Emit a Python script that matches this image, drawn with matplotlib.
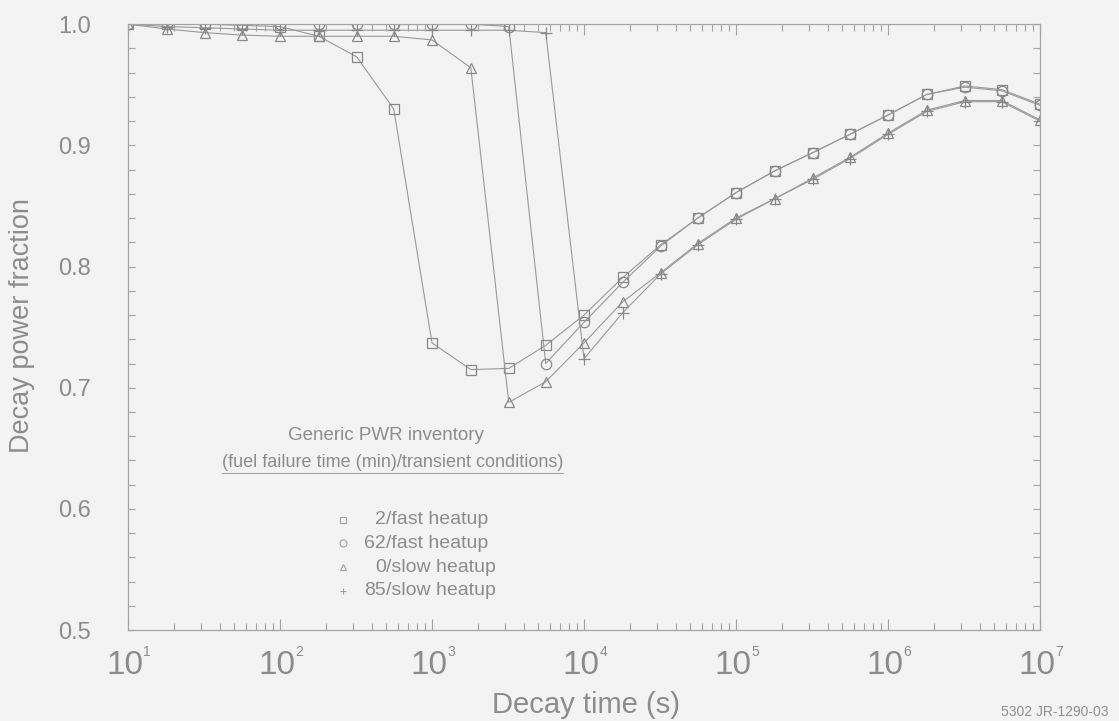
import matplotlib
matplotlib.use("Agg")
import matplotlib.pyplot as plt
from matplotlib.ticker import FixedLocator, FixedFormatter, LogLocator, NullFormatter, MultipleLocator

plt.rcParams['font.family'] = ['Liberation Sans', 'DejaVu Sans']

# Decay time (s)
times = [10, 18, 32, 56, 100, 180, 320, 560, 1000, 1800, 3200, 5600,
         1e4, 1.8e4, 3.2e4, 5.6e4, 1e5, 1.8e5, 3.2e5, 5.6e5,
         1e6, 1.8e6, 3.2e6, 5.6e6, 1e7]

fast_2 = [1.0, 1.0, 1.0, 0.999, 0.998, 0.990, 0.973, 0.930, 0.737, 0.715, 0.716, 0.735,
          0.760, 0.791, 0.818, 0.840, 0.861, 0.879, 0.894, 0.909, 0.925, 0.942, 0.949, 0.946, 0.934]
fast_62 = [1.0, 1.0, 1.0, 1.0, 1.0, 1.0, 1.0, 1.0, 1.0, 1.0, 0.998, 0.720,
           0.754, 0.787, 0.817, 0.840, 0.861, 0.879, 0.894, 0.909, 0.925, 0.942, 0.948, 0.945, 0.933]
slow_0 = [1.0, 0.996, 0.993, 0.991, 0.990, 0.990, 0.990, 0.990, 0.987, 0.964, 0.688, 0.705,
          0.737, 0.771, 0.795, 0.819, 0.840, 0.856, 0.873, 0.890, 0.910, 0.929, 0.937, 0.937, 0.921]
slow_85 = [1.0, 0.998, 0.997, 0.996, 0.995, 0.995, 0.995, 0.995, 0.995, 0.995, 0.995, 0.993,
           0.724, 0.762, 0.794, 0.818, 0.839, 0.856, 0.872, 0.889, 0.909, 0.928, 0.936, 0.936, 0.920]

series_labels = ["2/fast heatup", "62/fast heatup", "0/slow heatup", "85/slow heatup"]
x_tick_vals = [1e1, 1e2, 1e3, 1e4, 1e5, 1e6, 1e7]
x_tick_exps = ['1', '2', '3', '4', '5', '6', '7']
y_tick_vals = [0.5, 0.6, 0.7, 0.8, 0.9, 1.0]
y_tick_labels = ['0.5', '0.6', '0.7', '0.8', '0.9', '1.0']

BG = '#f3f3f3'
TXT = '#8c8c8c'
LINE = '#999999'
AX = '#a4a4a4'

fig = plt.figure(figsize=(11.19, 7.21), dpi=100, facecolor=BG)
ax = fig.add_axes([0.1144, 0.126, 0.815, 0.8405])
ax.set_facecolor(BG)

mk = dict(color=LINE, lw=0.8, markerfacecolor='none', markeredgecolor='#888888', markeredgewidth=0.9)
ax.plot(times, fast_2, marker='s', ms=7, **mk)
ax.plot(times, fast_62, marker='o', ms=7.5, **mk)
ax.plot(times, slow_0, marker='^', ms=7.5, **mk)
ax.plot(times, slow_85, marker='+', ms=8, **mk)

ax.set_xscale('log')
ax.set_xlim(1e1, 1e7)
ax.set_ylim(0.5, 1.0)

ax.xaxis.set_major_locator(FixedLocator(x_tick_vals))
ax.xaxis.set_major_formatter(NullFormatter())
ax.xaxis.set_minor_locator(LogLocator(base=10, subs=range(2, 10), numticks=20))
ax.xaxis.set_minor_formatter(NullFormatter())
ax.yaxis.set_major_locator(FixedLocator(y_tick_vals))
ax.yaxis.set_major_formatter(FixedFormatter(y_tick_labels))
ax.yaxis.set_minor_locator(MultipleLocator(0.02))

for s in ax.spines.values():
    s.set_color(AX)
    s.set_linewidth(0.9)

ax.tick_params(axis='both', which='both', direction='in', top=True, right=True,
               color=AX, width=0.8)
ax.tick_params(axis='x', which='major', length=8)
ax.tick_params(axis='x', which='minor', length=5)
ax.tick_params(axis='y', which='major', length=5, labelsize=17, labelcolor=TXT, pad=27)
ax.tick_params(axis='y', which='minor', length=5)

# x tick labels: large "10" with small raised exponent
for xv, ex in zip(x_tick_vals, x_tick_exps):
    ax.annotate('10', xy=(xv, 0), xycoords=('data', 'axes fraction'),
                xytext=(-2, -14), textcoords='offset points',
                ha='center', va='top', fontsize=24, color=TXT, annotation_clip=False)
    ax.annotate(ex, xy=(xv, 0), xycoords=('data', 'axes fraction'),
                xytext=(11, -11), textcoords='offset points',
                ha='left', va='top', fontsize=10, color=TXT, annotation_clip=False)

ax.set_xlabel('Decay time (s)', fontsize=21, color=TXT)
ax.xaxis.set_label_coords(0.502, -0.124)
ax.xaxis.label.set_va('center')
ax.set_ylabel('Decay power fraction', fontsize=19.5, color=TXT)
ax.yaxis.set_label_coords(-0.116, 0.503)
ax.yaxis.label.set_va('center')

# In-plot legend block
ax.text(0.283, 0.322, 'Generic PWR inventory', transform=ax.transAxes,
        ha='center', va='center', fontsize=13.5, color=TXT)
sub = ax.text(0.290, 0.276, '(fuel failure time (min)/transient conditions)', transform=ax.transAxes,
              ha='center', va='center', fontsize=13, color=TXT)
fig.canvas.draw()
bb = sub.get_window_extent(fig.canvas.get_renderer())
inv = ax.transAxes.inverted()
(xa0, _), (xa1, _) = inv.transform([(bb.x0, bb.y0), (bb.x1, bb.y0)])
ax.plot([xa0, xa1], [0.259, 0.259], transform=ax.transAxes, color=AX, lw=0.8)

markers = ['s', 'o', '^', '+']
nums = [s.split('/')[0] for s in series_labels]
rests = ['/' + s.split('/')[1] for s in series_labels]
y0 = 0.182
dy = 0.039
for i in range(4):
    yy = y0 - i * dy
    ax.plot([0.236], [yy], transform=ax.transAxes, marker=markers[i], ms=5,
            markerfacecolor='none', markeredgecolor='#a0a0a0', markeredgewidth=0.8, ls='none')
    ax.text(0.283, yy, nums[i], transform=ax.transAxes, ha='right', va='center',
            fontsize=14, color=TXT)
    ax.text(0.283, yy, rests[i], transform=ax.transAxes, ha='left', va='center',
            fontsize=14, color=TXT)

fig.text(1055 / 1119, 1 - 712 / 721, '5302 JR-1290-03', fontsize=10, color='#8f8f8f',
         ha='center', va='center')

fig.savefig('out.png', dpi=100, facecolor=BG)
